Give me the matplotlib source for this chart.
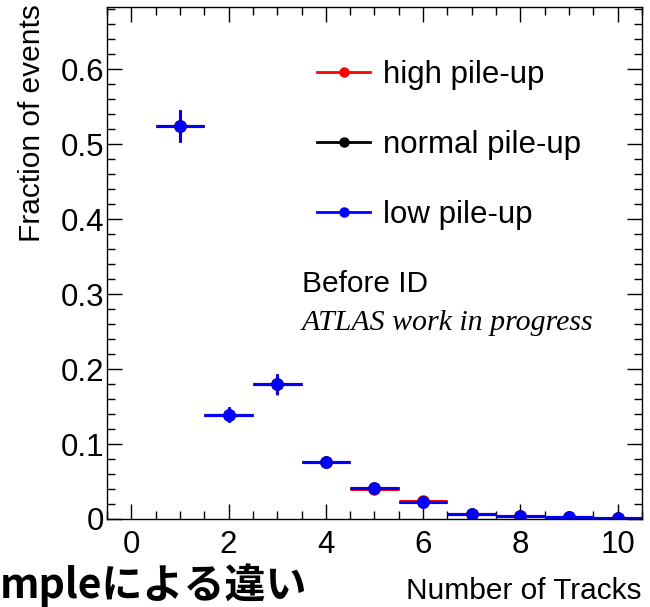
import matplotlib
matplotlib.use("Agg")
import matplotlib.pyplot as plt
from matplotlib.lines import Line2D
from matplotlib.ticker import MultipleLocator

# number of tracks per event, one bin per integer
n_tracks = [1, 2, 3, 4, 5, 6, 7, 8, 9, 10]

frac_high = [0.524, 0.139, 0.180, 0.076, 0.040, 0.0238, 0.0068, 0.0046, 0.0021, 0.0018]
err_high = [0.021, 0.010, 0.014, 0.004, 0.003, 0.002, 0.001, 0.001, 0.0005, 0.0005]

frac_normal = [0.524, 0.139, 0.180, 0.076, 0.041, 0.0225, 0.0068, 0.0045, 0.0020, 0.0017]
err_normal = [0.021, 0.010, 0.013, 0.004, 0.003, 0.002, 0.001, 0.001, 0.0005, 0.0005]

frac_low = [0.524, 0.139, 0.180, 0.076, 0.041, 0.0222, 0.0067, 0.0045, 0.0020, 0.0017]
err_low = [0.021, 0.010, 0.013, 0.004, 0.003, 0.002, 0.001, 0.001, 0.0005, 0.0005]

labels = ["high pile-up", "normal pile-up", "low pile-up"]
colors = ["#ff0000", "#000000", "#0000ff"]

sans = ["Liberation Sans", "DejaVu Sans"]

fig = plt.figure(figsize=(6.5, 6.07), dpi=100)
ax = fig.add_axes([0.1646, 0.145, 0.823, 0.8435])

for vals, errs, c in zip([frac_high, frac_normal, frac_low],
                         [err_high, err_normal, err_low], colors):
    ax.errorbar(n_tracks, vals, xerr=0.5, yerr=errs, fmt="o", color=c,
                ms=8.0, elinewidth=2.2, capsize=0)

ax.set_xlim(-0.5, 10.5)
ax.set_ylim(0, 0.683)

ax.xaxis.set_major_locator(MultipleLocator(2))
ax.xaxis.set_minor_locator(MultipleLocator(0.5))
ax.yaxis.set_major_locator(MultipleLocator(0.1))
ax.yaxis.set_minor_locator(MultipleLocator(0.02))
ax.tick_params(which="both", direction="in", top=True, right=True, width=1.0)
ax.tick_params(which="major", length=11)
ax.tick_params(which="minor", length=5.5)
ax.tick_params(axis="x", which="major", pad=8)
ax.tick_params(axis="y", which="major", pad=2)
ax.set_yticks([0, 0.1, 0.2, 0.3, 0.4, 0.5, 0.6])
ax.set_yticklabels(["0", "0.1", "0.2", "0.3", "0.4", "0.5", "0.6"])
for lab in ax.get_xticklabels() + ax.get_yticklabels():
    lab.set_fontfamily(sans)
    lab.set_fontsize(22.5)
for sp in ax.spines.values():
    sp.set_linewidth(1.0)

handles = [Line2D([], [], color=c, marker="o", ms=6.5, lw=2.0) for c in colors]
leg = ax.legend(handles, labels, loc="upper left", bbox_to_anchor=(0.34, 0.952),
                frameon=False, handlelength=1.7, handletextpad=0.4,
                labelspacing=1.28, prop={"family": sans, "size": 22.5})

ax.text(0.364, 0.458, "Before ID", transform=ax.transAxes, fontsize=21.5,
        family=sans, va="center", ha="left")
ax.text(0.364, 0.383, "ATLAS work in progress", transform=ax.transAxes,
        fontsize=21.5, family=["Liberation Serif", "DejaVu Serif"],
        style="italic", va="center", ha="left")

fig.text(32 / 650, 1 - 4 / 607, "Fraction of events", rotation=90,
         ha="center", va="top", fontsize=21.5, family=sans)
fig.text(641 / 650, 1 - 591 / 607, "Number of Tracks", ha="right",
         va="center", fontsize=21.5, family=sans)
fig.text(0.0, 1 - 585 / 607, "mpleによる違い", ha="left", va="center",
         fontsize=29.5, fontweight="bold",
         family=["Noto Sans CJK JP", "DejaVu Sans"])

fig.savefig("out.png", dpi=100)
